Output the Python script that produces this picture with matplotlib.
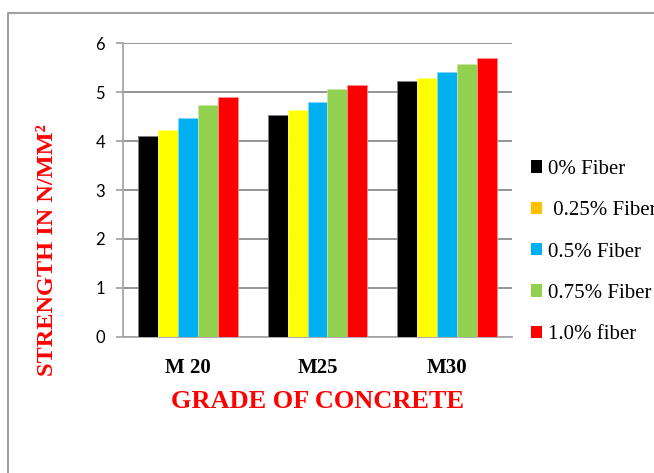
import matplotlib
matplotlib.use("Agg")
import numpy as np
import matplotlib.pyplot as plt
from matplotlib.lines import Line2D
from matplotlib.patches import Patch

# Strength by concrete grade and fibre content
grades = ["M 20", "M25", "M30"]
fiber_labels = ["0% Fiber", " 0.25% Fiber", "0.5% Fiber", "0.75% Fiber", "1.0% fiber"]
strength = [
    [4.10, 4.53, 5.22],   # 0%
    [4.22, 4.63, 5.30],   # 0.25%
    [4.48, 4.79, 5.42],   # 0.5%
    [4.74, 5.07, 5.57],   # 0.75%
    [4.90, 5.15, 5.70],   # 1.0%
]
bar_colors = ["#000000", "#FFFF00", "#00B0F0", "#92D050", "#FF0000"]
key_colors = ["#000000", "#FFC000", "#00B0F0", "#92D050", "#FF0000"]
edge_colors = ["#7f7f7f", "#ffff80", "#7fd7f7", "#c8e8a8", "#ff9090"]

W, H = 654, 473
fig = plt.figure(figsize=(W / 100, H / 100), dpi=100)
ax = fig.add_axes([123 / W, 1 - 336.7 / H, 389 / W, 293.4 / H])

x = np.arange(len(grades))
width = 0.154
for i, vals in enumerate(strength):
    ax.bar(x + (i - 2) * width, vals, width, color=bar_colors[i],
           edgecolor=edge_colors[i], linewidth=0.6, zorder=3)

ax.set_xlim(-0.5, 2.5)
ax.set_ylim(0, 6)
ax.set_yticks(range(7))
ax.set_xticks(x)
ax.set_xticklabels(grades, family="Liberation Serif", fontweight="bold", fontsize=15)
for lab in ax.get_yticklabels():
    lab.set_family("Lato")
    lab.set_fontsize(12)

grid_c = "#8c8c8c"
ax.yaxis.grid(True, color=grid_c, linewidth=1.3, zorder=0)
ax.set_axisbelow(True)
for side in ["top", "right"]:
    ax.spines[side].set_visible(False)
for side in ["left", "bottom"]:
    ax.spines[side].set_color("#a6a6a6")
    ax.spines[side].set_linewidth(1.3)
ax.tick_params(axis="y", length=5, width=1.3, color="#a6a6a6", pad=8)
ax.tick_params(axis="x", length=0, pad=15)

ax.set_xlabel("GRADE OF CONCRETE", family="Liberation Serif", fontweight="bold",
              fontsize=19, color="#FF0000", va="center")
ax.xaxis.set_label_coords(0.501, -0.222)
ax.set_ylabel("STRENGTH IN N/MM²", family="Liberation Serif", fontweight="bold",
              fontsize=17.5, color="#FF0000", va="center")
ax.yaxis.set_label_coords(-0.193, 0.2955)

handles = [Patch(facecolor=c, edgecolor="none") for c in key_colors]
fig.legend(handles, fiber_labels, loc="upper left",
           bbox_to_anchor=(531 / W, 1 - 160 / H), frameon=False,
           prop={"family": "Liberation Serif", "size": 15},
           handlelength=0.55, handleheight=0.55, handletextpad=0.25,
           labelspacing=1.07, borderpad=0, borderaxespad=0)

# outer chart border
fig.add_artist(Line2D([7.5 / W, 7.5 / W, 1.0], [0, 1 - 13.5 / H, 1 - 13.5 / H],
                      transform=fig.transFigure, color="#a0a0a0", linewidth=1.5))

fig.savefig("out.png", dpi=100)
